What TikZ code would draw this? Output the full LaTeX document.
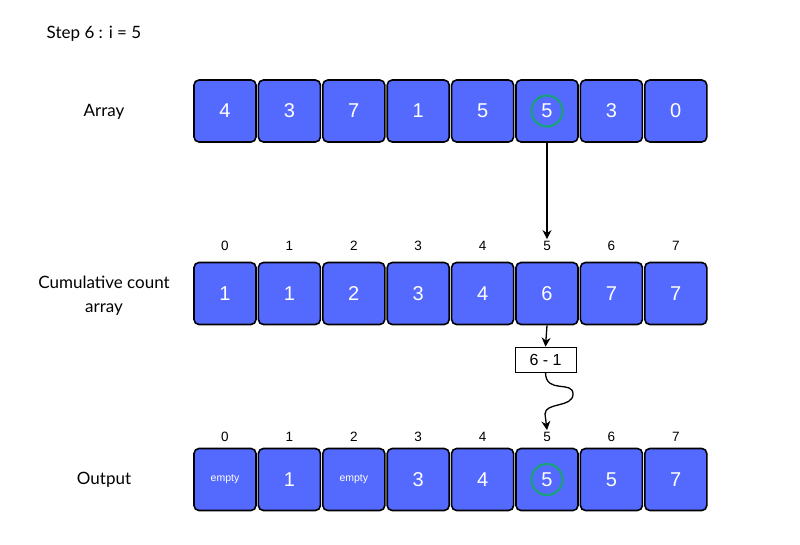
\documentclass[tikz,border=0pt]{standalone}
\usepackage{fontspec}
\setmainfont{Liberation Sans}
\newfontfamily\labelfont{Lato}
\usetikzlibrary{arrows.meta,positioning}
\definecolor{cellblue}{RGB}{84,106,255}
\definecolor{ringgreen}{RGB}{24,160,120}
\newcommand{\emp}{\raisebox{-2pt}{\fontsize{10.5}{12}\selectfont empty}}
\begin{document}
\begin{tikzpicture}[x=1pt, y=-1pt,
    cell/.style={draw=black, line width=1.6pt, rounded corners=5pt, fill=cellblue,
      minimum width=62pt, minimum height=62pt, inner sep=0pt, text=white,
      font=\fontsize{20}{22}\selectfont},
    idx/.style={inner sep=2pt, font=\fontsize{13.5}{15}\selectfont},
    lbl/.style={align=center, font=\labelfont\fontsize{17}{24}\selectfont},
    ring/.style={draw=ringgreen, line width=2.2pt, circle, minimum size=31pt, inner sep=0pt},
    calcbox/.style={draw=black, line width=0.8pt, minimum width=61pt, minimum height=25pt,
      inner sep=0pt, font=\fontsize{16}{18}\selectfont},
    arr/.style={-{Stealth[length=9pt,width=9pt]}, line width=1.3pt}]
  \useasboundingbox (0,0) rectangle (800,544);

  % labels on the left
  \node[lbl] (title) at (94,34) {Step 6 : i = 5};
  \node[lbl] (lArr) at (104,112) {Array};
  \node[lbl] (lCum) at (104,296) {Cumulative count\\array};
  \node[lbl] (lOut) at (104,480) {Output};

  % input array
  \foreach \v [count=\i from 0] in {4,3,7,1,5,5,3,0}
    \node[cell] (a\i) at (225+64.4*\i, 111) {\v};

  % cumulative count array with indices
  \foreach \v [count=\i from 0] in {1,1,2,3,4,6,7,7} {
    \node[cell] (c\i) at (225+64.4*\i, 293.5) {\v};
    \node[idx] (i\i) at (225+64.4*\i, 246) {\i};
  }

  % output array with indices
  \foreach \v [count=\i from 0] in {\emp,1,\emp,3,4,5,5,7} {
    \node[cell] (o\i) at (225+64.4*\i, 479.5) {\v};
    \node[idx] (j\i) at (225+64.4*\i, 437) {\i};
  }

  % current element
  \node[ring] (r1) at (a5) {};
  \node[ring] (r3) at (o5) {};

  \node[calcbox] (calc) at (545.5,359.5) {6 - 1};

  \draw[arr] (a5.south) -- (i5.north);
  \draw[arr] (c5.south) -- (calc.north);
  \draw[arr] (calc.south) .. controls +(0,22) and +(0,-14) .. (573,394)
    .. controls +(0,14) and +(0,-12) .. (545,414) -- (j5.north);
\end{tikzpicture}
\end{document}
